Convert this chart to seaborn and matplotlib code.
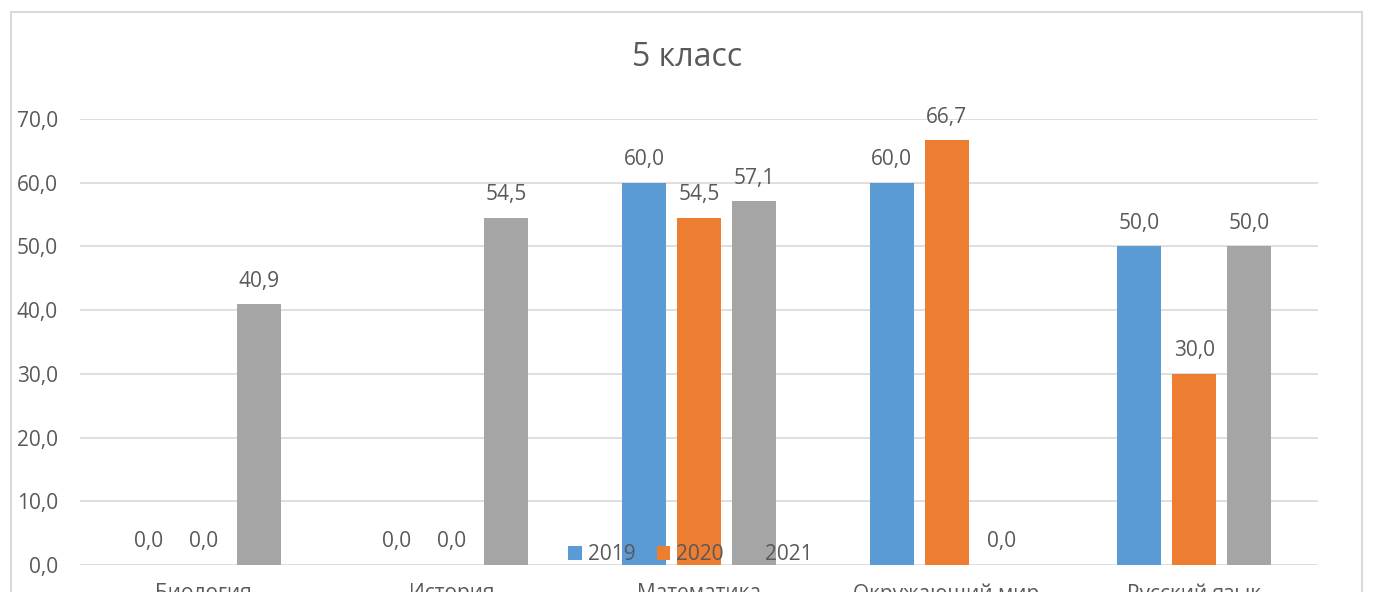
import pandas as pd
import matplotlib
matplotlib.use('Agg')
import matplotlib.pyplot as plt
import seaborn as sns
from matplotlib.patches import Patch, Rectangle

# Data
subjects = ['Биология', 'История', 'Математика', 'Окружающий мир', 'Русский язык']
years = ['2019', '2020', '2021']
vals_2019 = [0.0, 0.0, 60.0, 60.0, 50.0]
vals_2020 = [0.0, 0.0, 54.5, 66.7, 30.0]
vals_2021 = [40.9, 54.5, 57.1, 0.0, 50.0]
colors = ['#5B9BD5', '#ED7D31', '#A5A5A5']

df = pd.DataFrame({
    'Предмет': subjects * 3,
    'Год': [y for y in years for _ in subjects],
    'Значение': vals_2019 + vals_2020 + vals_2021,
})

sns.set_style('white')
plt.rcParams['font.family'] = ['Open Sans', 'DejaVu Sans']
text_color = '#595959'

fig = plt.figure(figsize=(13.75, 5.92), dpi=100)
# light chart border
fig.patches.append(Rectangle((11 / 1375, -0.1), 1351 / 1375, 1.1 - 12 / 592,
                             transform=fig.transFigure, fill=False,
                             edgecolor='#d9d9d9', linewidth=1.5))
ax = fig.add_axes([80 / 1375, 27 / 592, 1238 / 1375, 446 / 592])

sns.barplot(data=df, x='Предмет', y='Значение', hue='Год', palette=colors,
            width=0.667, gap=0.2, ax=ax, legend=False, saturation=1,
            linewidth=0, edgecolor='none')

ax.set_ylim(0, 70)
ax.set_xlim(-0.5, 4.5)
ax.set_yticks(range(0, 71, 10))
ax.set_yticklabels([f'{v},0' for v in range(0, 71, 10)])
ax.yaxis.grid(True, color='#d9d9d9', linewidth=1.2)
ax.set_axisbelow(True)
for s in ax.spines.values():
    s.set_visible(False)
ax.tick_params(axis='y', length=0, pad=16, labelsize=15, labelcolor=text_color)
ax.tick_params(axis='x', length=0, pad=13, labelsize=15, labelcolor=text_color)
ax.set_xlabel('')
ax.set_ylabel('')

# value labels
for cont in ax.containers:
    labels = [f'{v:.1f}'.replace('.', ',') for v in cont.datavalues]
    ax.bar_label(cont, labels=labels, padding=9, fontsize=15, color=text_color)

fig.text(0.5, 0.903, '5 класс', ha='center', va='center', fontsize=23, color=text_color)

handles = [Patch(facecolor=c, edgecolor='none', label=y) for c, y in zip(colors, years)]
fig.legend(handles=handles, loc='center', bbox_to_anchor=(0.502, 0.063), ncol=3,
           frameon=False, fontsize=15, handlelength=0.65, handleheight=0.65,
           handletextpad=0.3, columnspacing=1.0, labelcolor=text_color)

fig.savefig('out.png', dpi=100)
